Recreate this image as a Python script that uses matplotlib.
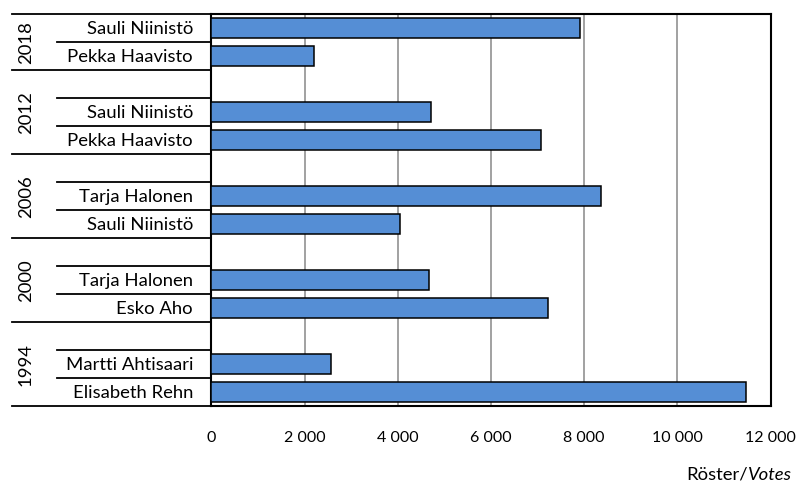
#!/usr/bin/env python3
import matplotlib
matplotlib.use("Agg")
import matplotlib.pyplot as plt
from matplotlib.lines import Line2D
from matplotlib.ticker import FuncFormatter

# --- Data (top to bottom, as shown) ---
years = ["2018", "2012", "2006", "2000", "1994"]
candidates = [
    ["Sauli Niinistö", "Pekka Haavisto"],
    ["Sauli Niinistö", "Pekka Haavisto"],
    ["Tarja Halonen", "Sauli Niinistö"],
    ["Tarja Halonen", "Esko Aho"],
    ["Martti Ahtisaari", "Elisabeth Rehn"],
]
votes = [
    [7910, 2205],
    [4720, 7075],
    [8350, 4050],
    [4680, 7230],
    [2575, 11475],
]
x_ticks = [0, 2000, 4000, 6000, 8000, 10000, 12000]

FONT = "Lato"
BAR_COLOR = "#558ED5"
LABEL_SIZE = 13.3

W, H = 801, 485
fig = plt.figure(figsize=(W / 100, H / 100), dpi=100)
left, right, top, bottom = 211.3, 770.7, 15, 407
ax = fig.add_axes([left / W, 1 - bottom / H, (right - left) / W, (bottom - top) / H])

# slot layout: every group except the first gets a blank slot above it
slots = []  # (label, value, group index)
for g, (names, vals) in enumerate(zip(candidates, votes)):
    if g > 0:
        slots.append(("", None, g))
    for n, v in zip(names, vals):
        slots.append((n, v, g))

n_slots = len(slots)
ypos = [n_slots - 1 - i for i in range(n_slots)]

for (name, val, g), y in zip(slots, ypos):
    if val is not None:
        ax.barh(y, val, height=0.68, color=BAR_COLOR, edgecolor="black",
                linewidth=1.1, zorder=3)

ax.set_ylim(-0.5, n_slots - 0.5)
ax.set_xlim(0, 12000)
ax.set_xticks(x_ticks)
ax.xaxis.set_major_formatter(FuncFormatter(lambda v, p: f"{int(v):,}".replace(",", " ")))
ax.tick_params(axis="x", length=0, pad=17, labelsize=11.5)
for lbl in ax.get_xticklabels():
    lbl.set_fontfamily(FONT)
ax.set_yticks([])
ax.grid(axis="x", color="#9a9a9a", linewidth=1.3, zorder=0)
for sp in ax.spines.values():
    sp.set_color("black")
    sp.set_linewidth(1.5)

# --- multi-level category axis ---
trans = ax.get_yaxis_transform()
span = right - left
x_inner = (57 - left) / span
x_outer = (12 - left) / span
x_name = (193 - left) / span
x_year = (26 - left) / span

for i, ((name, val, g), y) in enumerate(zip(slots, ypos)):
    if name:
        ax.text(x_name, y, name, transform=trans, ha="right", va="center",
                fontsize=LABEL_SIZE, family=FONT)
    # boundary below each slot
    is_group_end = i == n_slots - 1 or slots[i + 1][2] != g
    x0 = x_outer if is_group_end else x_inner
    ax.add_line(Line2D([x0, 0], [y - 0.5, y - 0.5], transform=trans,
                       color="black", linewidth=1.3, clip_on=False))

ax.add_line(Line2D([x_outer, 0], [n_slots - 0.5, n_slots - 0.5], transform=trans,
                   color="black", linewidth=1.3, clip_on=False))

for g, yr in enumerate(years):
    ys = [y for (nm, v, gg), y in zip(slots, ypos) if gg == g]
    yc = (max(ys) + min(ys)) / 2
    ax.text(x_year, yc, yr, transform=trans, ha="center", va="center",
            rotation=90, fontsize=LABEL_SIZE, family=FONT)

# axis title: "Röster/" upright + "Votes" italic, right edge at ~792 px
ty = 1 - 475 / H
t2 = fig.text(792 / W, ty, "Votes", ha="right", va="center",
              fontsize=LABEL_SIZE, family=FONT, style="italic")
renderer = fig.canvas.get_renderer()
x_left = t2.get_window_extent(renderer).x0
fig.text(x_left / W, ty, "Röster/", ha="right", va="center",
         fontsize=LABEL_SIZE, family=FONT)

fig.savefig("out.png", dpi=100)
